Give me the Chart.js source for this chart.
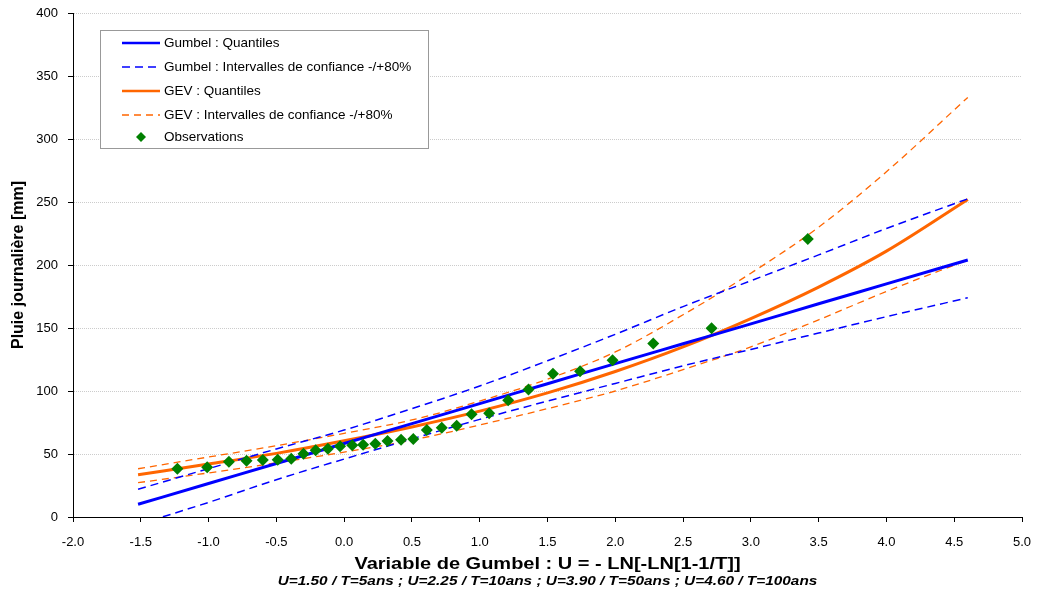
<!DOCTYPE html>
<html>
<head>
<meta charset="utf-8">
<title>Gumbel / GEV</title>
<script src="https://cdn.jsdelivr.net/npm/chart.js@4/dist/chart.umd.min.js"></script>
<style>
    html, body { margin: 0; padding: 0; background: #ffffff; }
    #wrap { width: 1037px; height: 594px; position: relative; }
</style>
</head>
<body>
<div id="wrap"><canvas id="rainChart"></canvas></div>
<script>
// Gumbel variable used for the fitted curves
const uGrid = [-1.52, -1.0, -0.5, 0.0, 0.5, 1.0, 1.5, 2.0, 2.5, 3.0, 3.5, 4.0, 4.6];

// Fitted quantiles and 80% confidence bounds (mm)
const gumbelQuant = [10.1, 26.6, 42.5, 58.3, 74.1, 90.0, 105.8, 121.7, 137.5, 153.3, 169.2, 185.0, 204.0];
const gumbelLow   = [-6, 11.6, 29.6, 46, 62, 77.5, 92, 106, 120, 133, 146, 159, 174];
const gumbelHigh  = [22, 38.4, 54, 69, 86, 104, 124, 145, 167, 187.5, 208, 229, 252.5];
const gevQuant    = [33.5, 42, 50.5, 60.5, 71.5, 84, 98.5, 115.5, 135, 157.5, 182.5, 211, 252];
const gevLow      = [27.2, 35, 43, 51.5, 61, 73, 86, 100, 117, 135, 156.5, 179, 204];
const gevHigh     = [38.3, 47.6, 56.6, 66.4, 77, 92, 109.4, 131, 160.5, 193.5, 230, 274, 333];

// Observed daily maxima
const obsU = [-1.23, -1.01, -0.85, -0.72, -0.60, -0.49, -0.39, -0.30, -0.21, -0.12,
              -0.03, 0.06, 0.14, 0.23, 0.32, 0.42, 0.51, 0.61, 0.72, 0.83,
              0.94, 1.07, 1.21, 1.36, 1.54, 1.74, 1.98, 2.28, 2.71, 3.42];
const obsRain = [38.3, 39.4, 43.9, 44.7, 45.2, 45.5, 46.3, 50.2, 52.9, 54.2,
                 56.1, 56.9, 57.4, 58.2, 60.3, 61.4, 61.9, 69.1, 70.9, 72.5,
                 81.6, 82.4, 92.7, 101.1, 113.6, 115.7, 124.5, 137.7, 149.9, 220.7];

const xTicksMin = -2, xTicksMax = 5, xStep = 0.5;
const yTicksMin = 0, yTicksMax = 400, yStep = 50;

const legendLabels = [
    'Gumbel : Quantiles',
    'Gumbel : Intervalles de confiance -/+80%',
    'GEV : Quantiles',
    'GEV : Intervalles de confiance -/+80%',
    'Observations'
];
const xTitleText = 'Variable de Gumbel : U = - LN[-LN[1-1/T]]';
const subtitleText = 'U=1.50 / T=5ans ; U=2.25 / T=10ans ; U=3.90 / T=50ans ; U=4.60 / T=100ans';

const BLUE = '#0000ff';
const ORANGE = '#ff6600';
const GREEN = '#008000';
const FONT = '"Liberation Sans", Arial, sans-serif';

function toPoints(xs, ys) {
    return xs.map((x, i) => ({ x: x, y: ys[i] }));
}

function curve(label, ys, color, width, dash) {
    return {
        label: label,
        data: toPoints(uGrid, ys),
        showLine: true,
        borderColor: color,
        borderWidth: width,
        borderDash: dash || [],
        pointRadius: 0,
        fill: false,
        cubicInterpolationMode: 'monotone',
        order: 2
    };
}

// stretched text, the original picture is a bit wider than the fonts
function wideText(ctx, text, cx, cy, font, stretch) {
    ctx.save();
    ctx.font = font;
    ctx.textAlign = 'center';
    ctx.textBaseline = 'middle';
    ctx.fillStyle = '#000000';
    ctx.translate(cx, cy);
    ctx.scale(stretch, 1);
    ctx.fillText(text, 0, 0);
    ctx.restore();
}

// legend box, x title and bottom note
const extraText = {
    id: 'extraText',
    afterDraw(chart) {
        const ctx = chart.ctx;
        ctx.save();

        ctx.fillStyle = '#ffffff';
        ctx.fillRect(100.5, 30.5, 328, 118);
        ctx.strokeStyle = '#999999';
        ctx.lineWidth = 1;
        ctx.strokeRect(100.5, 30.5, 328, 118);

        const rows = [43, 67, 91, 115, 137];
        const styles = [
            { c: BLUE, w: 2.5, d: [] },
            { c: BLUE, w: 1.5, d: [8, 5] },
            { c: ORANGE, w: 2.5, d: [] },
            { c: ORANGE, w: 1.3, d: [7, 5] },
            null
        ];
        ctx.font = '13.5px ' + FONT;
        ctx.textBaseline = 'middle';
        rows.forEach((y, i) => {
            const s = styles[i];
            if (s) {
                ctx.beginPath();
                ctx.strokeStyle = s.c;
                ctx.lineWidth = s.w;
                ctx.setLineDash(s.d);
                ctx.moveTo(122, y);
                ctx.lineTo(160, y);
                ctx.stroke();
                ctx.setLineDash([]);
            } else {
                ctx.fillStyle = GREEN;
                ctx.beginPath();
                ctx.moveTo(141, y - 5);
                ctx.lineTo(146, y);
                ctx.lineTo(141, y + 5);
                ctx.lineTo(136, y);
                ctx.closePath();
                ctx.fill();
            }
            ctx.fillStyle = '#000000';
            ctx.fillText(legendLabels[i], 164, y);
        });
        ctx.restore();

        const mid = (chart.chartArea.left + chart.chartArea.right) / 2;
        wideText(ctx, xTitleText, mid, 565, 'bold 16px ' + FONT, 1.25);
        wideText(ctx, subtitleText, mid, 582, 'italic bold 12px ' + FONT, 1.28);
    }
};

const ctx = document.getElementById('rainChart').getContext('2d');

const rainChart = new Chart(ctx, {
    type: 'scatter',
    data: {
        datasets: [
            {
                label: 'Observations',
                data: toPoints(obsU, obsRain),
                pointStyle: 'rectRot',
                pointRadius: 6,
                pointBackgroundColor: GREEN,
                pointBorderColor: GREEN,
                pointBorderWidth: 0,
                showLine: false,
                order: 0
            },
            curve('Gumbel : Quantiles', gumbelQuant, BLUE, 3),
            curve('Gumbel : Intervalles de confiance -/+80%', gumbelLow, BLUE, 1.5, [8, 5]),
            curve('Gumbel : Intervalles de confiance -/+80%', gumbelHigh, BLUE, 1.5, [8, 5]),
            curve('GEV : Quantiles', gevQuant, ORANGE, 3),
            curve('GEV : Intervalles de confiance -/+80%', gevLow, ORANGE, 1.3, [7, 5]),
            curve('GEV : Intervalles de confiance -/+80%', gevHigh, ORANGE, 1.3, [7, 5])
        ]
    },
    options: {
        responsive: true,
        maintainAspectRatio: false,
        animation: false,
        devicePixelRatio: 1,
        layout: { padding: { left: 0, right: 15, top: 13, bottom: 0 } },
        plugins: {
            legend: { display: false },
            tooltip: { enabled: false }
        },
        scales: {
            x: {
                type: 'linear',
                min: xTicksMin,
                max: xTicksMax,
                afterFit: function (scale) {
                    scale.height = 77;
                    scale.paddingLeft = 0;
                    scale.paddingRight = 0;
                },
                ticks: {
                    stepSize: xStep,
                    padding: 13,
                    color: '#000000',
                    font: { family: FONT, size: 13 },
                    callback: function (v) { return Number(v).toFixed(1); }
                },
                grid: {
                    drawOnChartArea: false,
                    drawTicks: true,
                    tickLength: 5,
                    tickColor: '#000000'
                },
                border: { display: true, color: '#000000', width: 1 },
                title: { display: false }
            },
            y: {
                type: 'linear',
                min: yTicksMin,
                max: yTicksMax,
                afterFit: function (scale) {
                    scale.width = 73;
                    scale.paddingTop = 0;
                    scale.paddingBottom = 0;
                },
                ticks: {
                    stepSize: yStep,
                    padding: 10,
                    color: '#000000',
                    font: { family: FONT, size: 13 }
                },
                grid: {
                    color: '#cccccc',
                    lineWidth: 1,
                    tickLength: 5,
                    tickColor: '#000000'
                },
                border: { display: true, color: '#000000', width: 1, dash: [1, 1] },
                title: {
                    display: true,
                    text: 'Pluie journalière [mm]',
                    color: '#000000',
                    font: { family: FONT, size: 16, weight: 'bold' },
                    padding: { top: 9, bottom: 0 }
                }
            }
        }
    },
    plugins: [extraText]
});
</script>
</body>
</html>
